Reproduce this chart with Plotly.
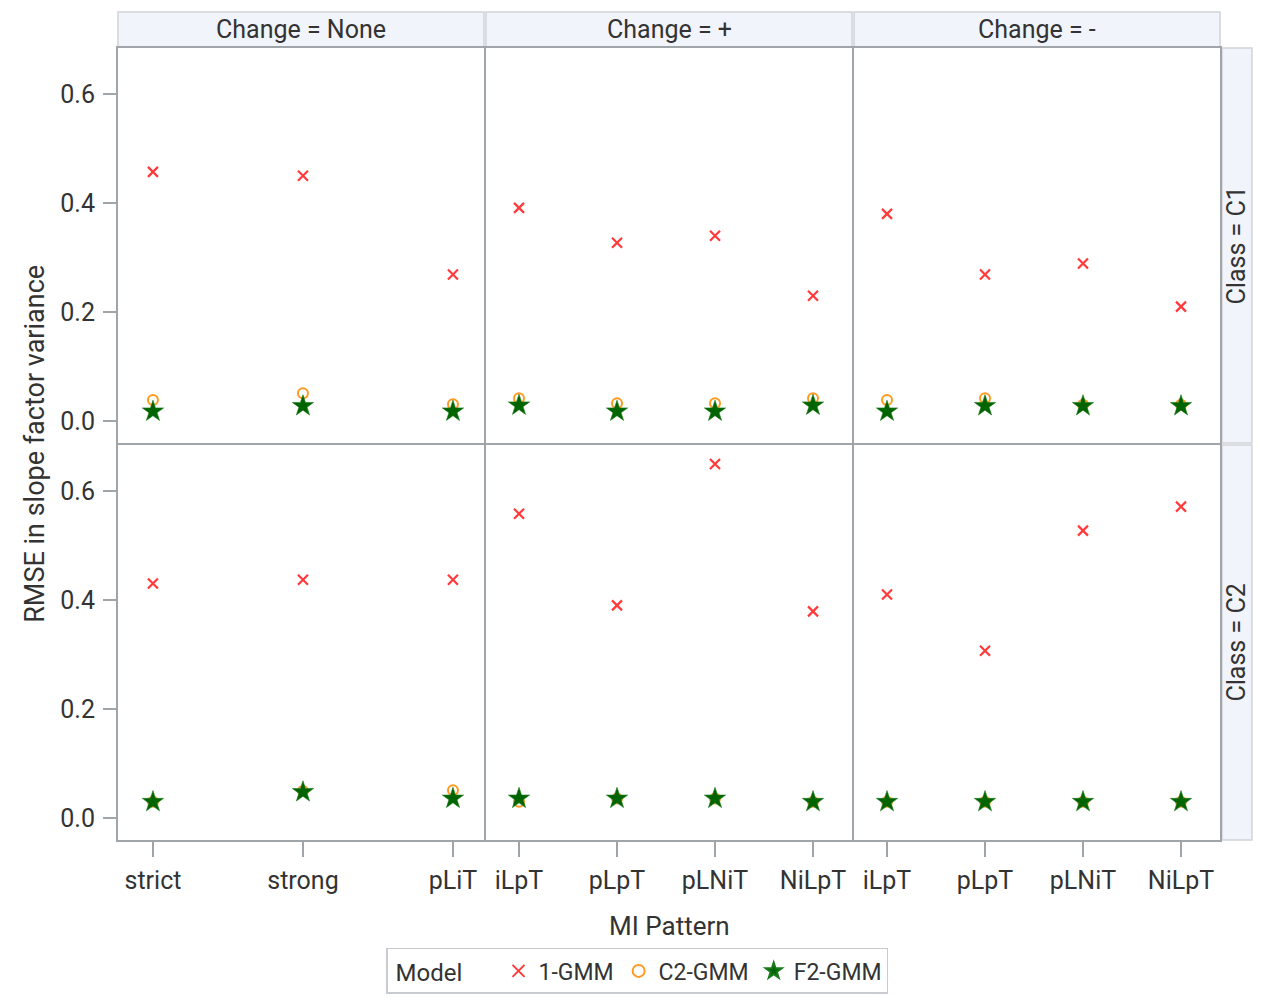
import plotly.graph_objects as go
from plotly.subplots import make_subplots

# Panel layout: columns are the Change groups, rows are the classes
changes = ["None", "+", "-"]
classes = ["C1", "C2"]

patterns_none = ["strict", "strong", "pLiT"]
patterns_dir = ["iLpT", "pLpT", "pLNiT", "NiLpT"]

models = ["1-GMM", "C2-GMM", "F2-GMM"]

# RMSE in slope factor variance, one list per class / change / model (values per pattern)
rmse_c1_none_1gmm = [0.457, 0.450, 0.269]
rmse_c1_none_c2gmm = [0.039, 0.051, 0.031]
rmse_c1_none_f2gmm = [0.018, 0.028, 0.018]

rmse_c1_plus_1gmm = [0.391, 0.327, 0.340, 0.230]
rmse_c1_plus_c2gmm = [0.042, 0.033, 0.033, 0.042]
rmse_c1_plus_f2gmm = [0.029, 0.018, 0.018, 0.029]

rmse_c1_minus_1gmm = [0.380, 0.269, 0.289, 0.210]
rmse_c1_minus_c2gmm = [0.039, 0.042, 0.030, 0.030]
rmse_c1_minus_f2gmm = [0.018, 0.028, 0.028, 0.028]

rmse_c2_none_1gmm = [0.430, 0.437, 0.437]
rmse_c2_none_c2gmm = [0.030, 0.050, 0.051]
rmse_c2_none_f2gmm = [0.030, 0.048, 0.036]

rmse_c2_plus_1gmm = [0.558, 0.390, 0.649, 0.379]
rmse_c2_plus_c2gmm = [0.030, 0.036, 0.036, 0.030]
rmse_c2_plus_f2gmm = [0.036, 0.036, 0.036, 0.030]

rmse_c2_minus_1gmm = [0.410, 0.307, 0.527, 0.571]
rmse_c2_minus_c2gmm = [0.030, 0.030, 0.030, 0.030]
rmse_c2_minus_f2gmm = [0.030, 0.030, 0.030, 0.030]

y_ticks = [0.0, 0.2, 0.4, 0.6]

panels = {
    ("C1", "None"): (patterns_none, [rmse_c1_none_1gmm, rmse_c1_none_c2gmm, rmse_c1_none_f2gmm]),
    ("C1", "+"): (patterns_dir, [rmse_c1_plus_1gmm, rmse_c1_plus_c2gmm, rmse_c1_plus_f2gmm]),
    ("C1", "-"): (patterns_dir, [rmse_c1_minus_1gmm, rmse_c1_minus_c2gmm, rmse_c1_minus_f2gmm]),
    ("C2", "None"): (patterns_none, [rmse_c2_none_1gmm, rmse_c2_none_c2gmm, rmse_c2_none_f2gmm]),
    ("C2", "+"): (patterns_dir, [rmse_c2_plus_1gmm, rmse_c2_plus_c2gmm, rmse_c2_plus_f2gmm]),
    ("C2", "-"): (patterns_dir, [rmse_c2_minus_1gmm, rmse_c2_minus_c2gmm, rmse_c2_minus_f2gmm]),
}

FONT = "Roboto, Liberation Sans, Arial, sans-serif"
TEXT = "#333333"
FRAME = "#a0a5aa"
STRIP_FILL = "#f2f4fb"
STRIP_LINE = "#d0d4d8"

marker_styles = {
    "1-GMM": dict(symbol="x-thin", size=10, color="#ff3a3a", line=dict(width=2.2, color="#ff3a3a")),
    "C2-GMM": dict(symbol="circle-open", size=10, color="#ff9a1f", line=dict(width=2, color="#ff9a1f")),
    "F2-GMM": dict(symbol="star", size=16, color="#006400", line=dict(width=0.6, color="#1a7a1a")),
}

fig = make_subplots(rows=2, cols=3, horizontal_spacing=0.0018, vertical_spacing=0.0025)

for r, cls in enumerate(classes, start=1):
    for c, chg in enumerate(changes, start=1):
        cats, series = panels[(cls, chg)]
        for name, vals in zip(models, series):
            fig.add_trace(
                go.Scatter(
                    x=cats, y=vals, mode="markers", name=name,
                    marker=marker_styles[name],
                    showlegend=(r == 1 and c == 1),
                    legendgroup=name,
                ),
                row=r, col=c,
            )

# Axis styling: framed panels, ticks only on outer edges
for r in (1, 2):
    for c in (1, 2, 3):
        cats = patterns_none if c == 1 else patterns_dir
        xr = [-0.233, 2.207] if c == 1 else [-0.337, 3.398]
        fig.update_xaxes(
            type="category", categoryorder="array", categoryarray=cats, range=xr,
            showgrid=False, zeroline=False, showline=True, mirror=True,
            linecolor=FRAME, linewidth=2,
            ticks="outside" if r == 2 else "", ticklen=15, tickcolor=FRAME, tickwidth=2,
            showticklabels=(r == 2), ticklabelstandoff=2,
            tickfont=dict(family=FONT, size=25, color=TEXT),
            automargin=False,
            row=r, col=c,
        )
        fig.update_yaxes(
            range=[-0.04, 0.684], tickvals=y_ticks, ticktext=[f"{v:.1f}" for v in y_ticks],
            showgrid=False, zeroline=False, showline=True, mirror=True,
            linecolor=FRAME, linewidth=2,
            ticks="outside" if c == 1 else "", ticklen=13, tickcolor=FRAME, tickwidth=2,
            showticklabels=(c == 1), ticklabelstandoff=3,
            tickfont=dict(family=FONT, size=25, color=TEXT),
            automargin=False,
            row=r, col=c,
        )

# Column headers and row headers as strips
col_x = [(0.0, 0.3321), (0.3339, 0.6661), (0.6679, 1.0)]
shapes = []
annotations = []
for (x0, x1), chg in zip(col_x, changes):
    shapes.append(dict(type="rect", xref="paper", yref="paper", x0=x0, x1=x1, y0=1.0015, y1=1.0455,
                       fillcolor=STRIP_FILL, line=dict(color=STRIP_LINE, width=1.5), layer="below"))
    annotations.append(dict(xref="paper", yref="paper", x=(x0 + x1) / 2, y=1.0235, text=f"Change = {chg}",
                            showarrow=False, font=dict(family=FONT, size=25, color=TEXT),
                            xanchor="center", yanchor="middle"))

row_y = [(0.5013, 1.0), (0.0, 0.4987)]
for (y0, y1), cls in zip(row_y, classes):
    shapes.append(dict(type="rect", xref="paper", yref="paper", x0=1.0018, x1=1.0290, y0=y0, y1=y1,
                       fillcolor=STRIP_FILL, line=dict(color=STRIP_LINE, width=1.5), layer="below"))
    annotations.append(dict(xref="paper", yref="paper", x=1.0154, y=(y0 + y1) / 2, text=f"Class = {cls}",
                            showarrow=False, textangle=-90, font=dict(family=FONT, size=25, color=TEXT),
                            xanchor="center", yanchor="middle"))

annotations.append(dict(xref="paper", yref="paper", x=0.5, y=-0.1085, text="MI Pattern", showarrow=False,
                        font=dict(family=FONT, size=26, color=TEXT), xanchor="center", yanchor="middle"))
annotations.append(dict(xref="paper", yref="paper", x=-0.0755, y=0.5, text="RMSE in slope factor variance",
                        showarrow=False, textangle=-90, font=dict(family=FONT, size=27, color=TEXT),
                        xanchor="center", yanchor="middle"))

fig.update_layout(
    width=1264, height=1002,
    margin=dict(l=118, r=44, t=48, b=162, autoexpand=False),
    paper_bgcolor="white", plot_bgcolor="white",
    shapes=shapes, annotations=annotations,
    legend=dict(
        orientation="h", x=0.471, y=0.031, xref="paper", yref="container",
        xanchor="center", yanchor="middle",
        title=dict(text=" Model     ", font=dict(family=FONT, size=24, color=TEXT)),
        font=dict(family=FONT, size=23, color=TEXT),
        bordercolor="#c8ccd0", borderwidth=1.5, bgcolor="white",
        itemsizing="constant",
    ),
)

fig.write_html("out.html")
